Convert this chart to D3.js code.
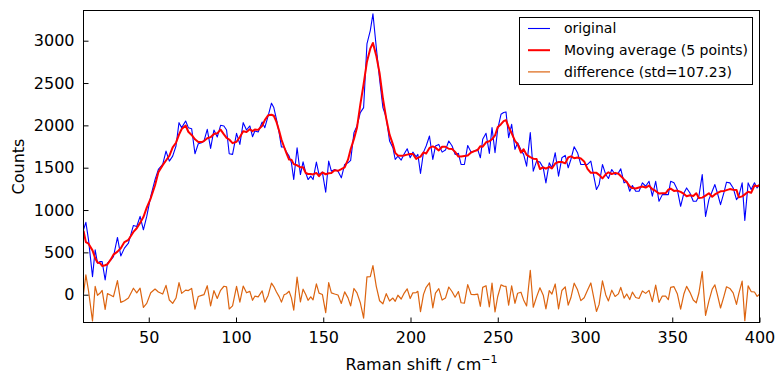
<!DOCTYPE html>
<html><head><meta charset="utf-8">
<script src="https://cdn.jsdelivr.net/npm/d3@7"></script>
<style>body{margin:0;background:#fff}svg text{font-family:"DejaVu Sans",sans-serif}</style>
</head><body>
<svg id="c" width="783" height="384"></svg>
<script>
// Raman shift (cm^-1)
const ramanShift = [12.6,13.96,15.48,17.76,19.29,20.62,22.15,23.29,25.01,26.34,28.25,29.77,32.06,33.97,36.06,38.35,41.21,43.12,45.03,46.93,48.84,51.13,53.6,55.51,57.99,59.89,61.8,63.71,65.61,67.33,68.86,71.14,72.67,74.57,76.48,78.38,80.29,81.63,83.53,85.44,87.35,89.25,91.16,93.07,94.59,96.11,98.02,100.31,102.21,104.12,106.03,107.93,109.46,110.79,112.7,
115.0,116.51,118.42,120.33,121.66,123.19,124.71,126.04,127.57,128.9,130.42,131.76,133.09,135.0,136.91,138.43,139.96,141.29,142.82,144.15,146.06,147.58,149.49,151.4,153.11,154.64,156.54,158.45,160.36,162.27,164.17,165.7,167.6,169.32,171.23,173.13,175.04,176.95,178.47,180.38,182.28,184.19,186.1,188.0,189.91,191.24,192.77,194.67,196.2,198.1,199.82,201.35,203.25,204.21,205.73,207.45,208.97,
210.87,212.78,214.3,216.21,218.12,220.02,221.93,223.84,225.55,227.46,228.98,230.89,232.79,234.7,236.61,238.51,240.04,241.37,243.28,245.19,246.71,248.43,249.95,251.86,253.38,254.72,256.24,257.96,259.87,261.39,263.3,264.82,266.54,268.64,270.35,272.26,274.17,276.07,277.6,279.51,281.03,282.94,284.84,286.75,288.66,290.37,291.9,293.8,295.71,297.62,299.52,301.43,303.34,
306.57,308.09,310.0,311.91,313.43,315.34,317.25,319.15,320.49,322.39,323.92,325.63,327.16,329.06,330.97,332.88,334.78,336.69,338.6,340.5,342.41,344.32,346.22,347.75,349.08,350.99,352.89,354.8,356.71,358.23,360.14,362.04,363.76,365.27,367.18,369.09,370.99,372.9,374.43,375.76,377.67,379.57,381.1,383.01,384.91,386.82,388.15,390.06,391.59,393.49,395.21,397.12,398.64,400.0];
// Original counts
const original = [767,854,648,213,530,372,391,391,174,372,411,450,676,458,550,609,818,806,925,767,925,1162,1360,1479,1538,1696,1578,1637,1756,2032,1973,2052,1973,1961,1665,1783,1795,1815,1953,1728,1945,1862,2001,1993,1945,1665,1657,1906,1775,2032,1945,1993,1866,1933,1922,
2040,1973,2111,2262,2210,2072,1914,1744,1744,1684,1637,1558,1360,1736,1419,1570,1439,1360,1400,1360,1566,1419,1447,1210,1578,1459,1479,1459,1380,1538,1558,1586,1914,1993,2151,2210,2962,3120,3317,2922,2546,2210,2092,1815,1736,1597,1637,1590,1657,1724,1617,1684,1629,1657,1431,1684,1756,
1874,1597,1756,1775,1684,1708,1815,1756,1657,1669,1538,1538,1763,1684,1696,1716,1617,1835,1906,1669,1973,1677,1953,2131,2151,2159,1854,2013,1716,1795,1708,1657,1518,1914,1459,1578,1566,1499,1321,1558,1499,1677,1400,1617,1645,1499,1597,1748,1677,1538,1538,1538,1578,
1242,1301,1538,1419,1372,1479,1419,1439,1487,1321,1340,1222,1289,1222,1222,1321,1281,1340,1163,1340,1103,1182,1182,1182,1340,1321,1242,1044,1202,1261,1202,1103,1103,1163,1419,925,1123,1222,1301,1210,1064,1202,1329,1321,1261,1123,1163,1321,878,1321,1242,1321,1261,1300];
const windowSize = 5;
const xTicks = [50,100,150,200,250,300,350,400];
const yTicks = [0,500,1000,1500,2000,2500,3000];
const legendLabels = ["original","Moving average (5 points)","difference (std=107.23)"];
const seriesColors = ["#0000ff","#ff0000","#dc6410"];
const seriesWidths = [1.1,2,1.2];

// derived series: centred moving average and residual
const half = Math.floor(windowSize/2);
const movingAvg = original.map((v,i)=>d3.mean(original.slice(Math.max(0,i-half), Math.min(original.length,i+half+1))));
const difference = original.map((v,i)=>v-movingAvg[i]);

const L=83.5, R=759.5, T=10.5, B=322.5;
const x = d3.scaleLinear().domain([12.6,400]).range([L,R]);
const y = d3.scaleLinear().domain([0,3000]).range([294.7,40.7]);
const svg = d3.select("#c");

svg.append("clipPath").attr("id","pc").append("rect").attr("x",L).attr("y",T).attr("width",R-L).attr("height",B-T);
const g = svg.append("g").attr("clip-path","url(#pc)");
const line = data => d3.line().x((d,i)=>x(ramanShift[i])).y(d=>y(d))(data);
[original, difference, movingAvg].forEach((s,j)=>{
  const k = [0,2,1][j];
  g.append("path").attr("d",line(s)).attr("fill","none").attr("stroke",seriesColors[k]).attr("stroke-width",seriesWidths[k]).attr("stroke-linejoin","round");
});

// axes with inward ticks
const fmt = d3.format("d");
const xAxis = d3.axisBottom(x).tickValues(xTicks).tickFormat(fmt).tickSizeInner(-5).tickSizeOuter(0).tickPadding(9);
const yAxis = d3.axisLeft(y).tickValues(yTicks).tickFormat(fmt).tickSizeInner(-5).tickSizeOuter(0).tickPadding(9);
const gx = svg.append("g").attr("transform",`translate(0,${B})`).call(xAxis);
const gy = svg.append("g").attr("transform",`translate(${L},0)`).call(yAxis);
[gx,gy].forEach(a=>{a.select(".domain").remove();a.selectAll("text").attr("font-size",16).attr("fill","#000").attr("font-family","DejaVu Sans");a.selectAll("line").attr("stroke","#000");});
gx.selectAll("text").attr("dy","0.71em");
svg.append("rect").attr("x",L).attr("y",T).attr("width",R-L).attr("height",B-T).attr("fill","none").attr("stroke","#000").attr("stroke-width",1);

// axis labels
const xl = svg.append("text").attr("x",(L+R)/2).attr("y",370).attr("text-anchor","middle").attr("font-size",16);
xl.append("tspan").text("Raman shift / cm");
xl.append("tspan").attr("dy",-7).attr("font-size",11).text("−1");
svg.append("text").attr("transform",`translate(24,${(T+B)/2}) rotate(-90)`).attr("text-anchor","middle").attr("font-size",16).text("Counts");

// legend
const lg = svg.append("g");
lg.append("rect").attr("x",519.5).attr("y",17.5).attr("width",233).attr("height",67).attr("fill","#fff").attr("stroke","#000");
legendLabels.forEach((t,i)=>{
  const yy = 28.5 + i*21.7;
  lg.append("line").attr("x1",528).attr("x2",550).attr("y1",yy).attr("y2",yy).attr("stroke",seriesColors[i]).attr("stroke-width",seriesWidths[i]);
  lg.append("text").attr("x",564).attr("y",yy).attr("dy","0.35em").attr("font-size",14).text(t);
});
</script>
</body></html>
